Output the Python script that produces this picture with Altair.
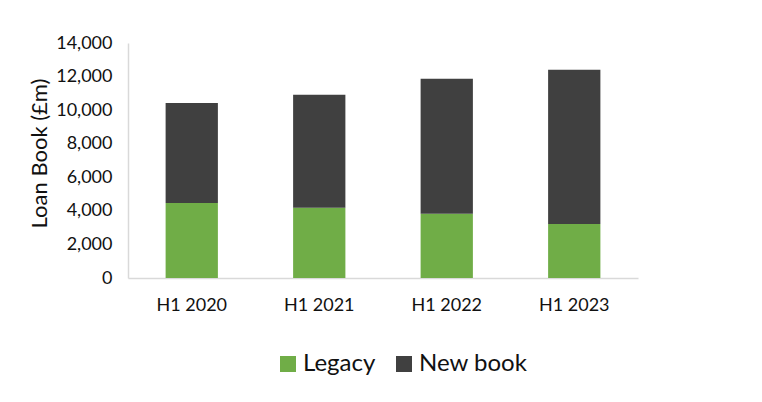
import altair as alt
import pandas as pd

periods = ["H1 2020", "H1 2021", "H1 2022", "H1 2023"]
legacy = [4470, 4190, 3830, 3220]
new_book = [5950, 6730, 8040, 9190]
series = ["Legacy", "New book"]
colors = ["#70AD47", "#404040"]
y_ticks = [0, 2000, 4000, 6000, 8000, 10000, 12000, 14000]

rows = []
for p, l, n in zip(periods, legacy, new_book):
    rows.append({"period": p, "series": series[0], "value": l, "ord": 0})
    rows.append({"period": p, "series": series[1], "value": n, "ord": 1})
df = pd.DataFrame(rows)

FONT = "Lato"

chart = alt.Chart(df).mark_bar().encode(
    x=alt.X("period:N", sort=periods,
            scale=alt.Scale(paddingInner=0.59, paddingOuter=0.295),
            axis=alt.Axis(title=None, labelAngle=0, ticks=False, labelPadding=18,
                          labelFontSize=18, labelFont=FONT, labelColor="#111111",
                          domainColor="#D9D9D9", domainWidth=1.5, grid=False)),
    y=alt.Y("value:Q", stack="zero",
            scale=alt.Scale(domain=[0, 14000], nice=False),
            axis=alt.Axis(title="Loan Book (£m)", values=y_ticks, format=",d",
                          ticks=False, labelPadding=16, labelFontSize=18, labelFont=FONT,
                          labelColor="#111111", grid=False,
                          domainColor="#D9D9D9", domainWidth=1.5,
                          titleFont=FONT, titleFontSize=22, titleFontWeight="normal",
                          titleColor="#111111", titleX=-89, titleY=110,
                          titleAngle=270, titleAlign="center", titleBaseline="middle")),
    color=alt.Color("series:N", scale=alt.Scale(domain=series, range=colors),
                    legend=alt.Legend(title=None, orient="none", direction="horizontal",
                                      legendX=148, legendY=309, padding=0,
                                      symbolType="square",
                                      symbolSize=256, symbolStrokeWidth=0,
                                      labelFontSize=24, labelFont=FONT, labelColor="#111111",
                                      labelOffset=3, columnPadding=16)),
    order=alt.Order("ord:Q", sort="ascending"),
).properties(
    width=510, height=235,
    autosize=alt.AutoSizeParams(type="none"),
    padding={"left": 120, "top": 35, "right": 116, "bottom": 116},
).configure(background="white").configure_view(stroke=None)

chart.save("out.html", embed_options={"renderer": "svg", "actions": False})
